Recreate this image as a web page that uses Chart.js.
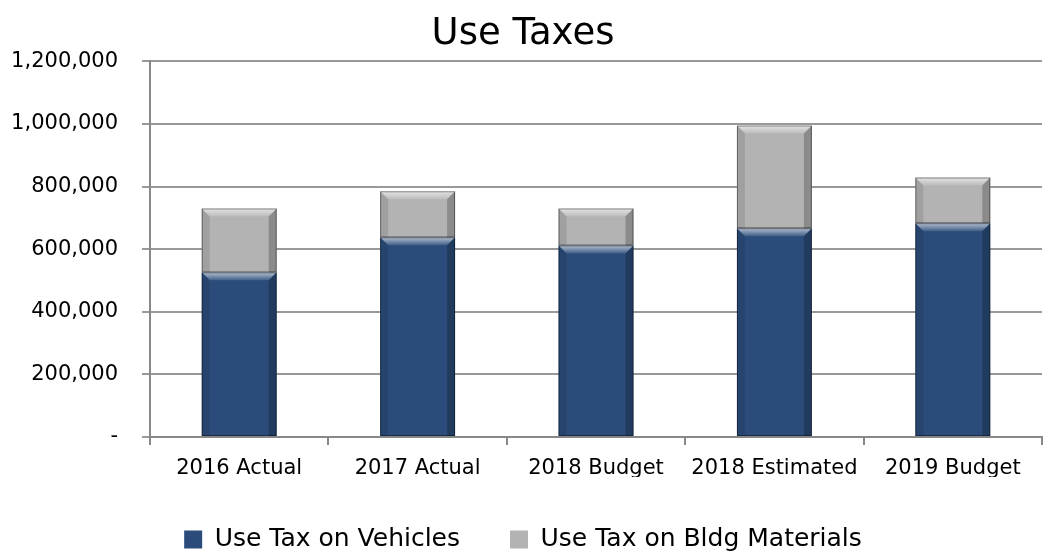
<!DOCTYPE html>
<html>
<head>
<meta charset="utf-8">
<script src="https://cdn.jsdelivr.net/npm/chart.js@4"></script>
<style>
  html, body { margin: 0; padding: 0; background: #fff; }
  #wrap { width: 1050px; height: 552px; }
</style>
</head>
<body>
<div id="wrap"><canvas id="tax-canvas" width="1050" height="552"></canvas></div>
<script>
let categories = ['2016 Actual', '2017 Actual', '2018 Budget', '2018 Estimated', '2019 Budget'];
let vehicles = [526000, 638000, 612000, 667000, 683000];
let bldgMaterials = [204000, 147000, 118000, 328000, 146000];
let yTicks = [0, 200000, 400000, 600000, 800000, 1000000, 1200000];

let fontFamily = "'DejaVu Sans', sans-serif";

// shade each bar so it looks like a bevelled block
let bevel = {
  id: 'bevel',
  afterDatasetsDraw(chart) {
    let ctx = chart.ctx;
    chart.data.datasets.forEach((ds, di) => {
      chart.getDatasetMeta(di).data.forEach(bar => {
        let left = bar.x - bar.width / 2;
        let right = bar.x + bar.width / 2;
        let top = Math.min(bar.y, bar.base);
        let bottom = Math.max(bar.y, bar.base);
        let w = right - left, h = bottom - top;
        let b = Math.min(8, h / 3);
        ctx.save();
        // top highlight
        let g = ctx.createLinearGradient(0, top, 0, top + b);
        g.addColorStop(0, 'rgba(255,255,255,0.65)');
        g.addColorStop(1, 'rgba(255,255,255,0.1)');
        ctx.fillStyle = g;
        ctx.beginPath();
        ctx.moveTo(left, top);
        ctx.lineTo(right, top);
        ctx.lineTo(right - b, top + b);
        ctx.lineTo(left + b, top + b);
        ctx.closePath();
        ctx.fill();
        // sides
        ctx.fillStyle = 'rgba(0,0,0,0.10)';
        ctx.beginPath();
        ctx.moveTo(left, top);
        ctx.lineTo(left + b, top + b);
        ctx.lineTo(left + b, bottom);
        ctx.lineTo(left, bottom);
        ctx.closePath();
        ctx.fill();
        ctx.fillStyle = 'rgba(0,0,0,0.22)';
        ctx.beginPath();
        ctx.moveTo(right, top);
        ctx.lineTo(right - b, top + b);
        ctx.lineTo(right - b, bottom);
        ctx.lineTo(right, bottom);
        ctx.closePath();
        ctx.fill();
        // outline
        ctx.strokeStyle = 'rgba(0,0,0,0.4)';
        ctx.lineWidth = 1;
        ctx.strokeRect(left + 0.5, top + 0.5, w - 1, h - 1);
        ctx.restore();
      });
    });
  }
};

let ctx = document.getElementById('tax-canvas').getContext('2d');
let chart = new Chart(ctx, {
  type: 'bar',
  data: {
    labels: categories,
    datasets: [{
      label: 'Use Tax on Vehicles',
      data: vehicles,
      backgroundColor: '#2b4c7a',
      borderWidth: 0,
      categoryPercentage: 1,
      barPercentage: 0.42
    }, {
      label: 'Use Tax on Bldg Materials',
      data: bldgMaterials,
      backgroundColor: '#b3b3b3',
      borderWidth: 0,
      categoryPercentage: 1,
      barPercentage: 0.42
    }]
  },
  options: {
    responsive: false,
    animation: false,
    layout: { padding: { left: 4, right: 8, top: 4, bottom: -10 } },
    plugins: {
      title: {
        display: true,
        text: 'Use Taxes',
        color: '#000',
        font: { family: fontFamily, size: 37, weight: 'normal' },
        padding: { top: 8, bottom: 5 }
      },
      legend: {
        position: 'bottom',
        labels: {
          color: '#000',
          font: { family: fontFamily, size: 25 },
          boxWidth: 18,
          boxHeight: 18,
          padding: 50
        }
      },
      tooltip: { enabled: false }
    },
    scales: {
      x: {
        stacked: true,
        afterFit: axis => { axis.height = 40; },
        border: { color: '#888', width: 2 },
        grid: {
          offset: true,
          drawOnChartArea: false,
          color: '#888',
          tickLength: 8,
          lineWidth: 2
        },
        ticks: {
          color: '#000',
          font: { family: fontFamily, size: 21 },
          padding: 11
        }
      },
      y: {
        stacked: true,
        min: 0,
        max: 1200000,
        afterBuildTicks: axis => {
          axis.ticks = yTicks.map(v => ({ value: v }));
        },
        afterFit: axis => { axis.width = 146; },
        border: { color: '#888', width: 2 },
        grid: { color: '#999', lineWidth: 2, tickLength: 8 },
        ticks: {
          color: '#000',
          font: { family: fontFamily, size: 21 },
          padding: 24,
          callback: v => v === 0 ? '-' : v.toLocaleString('en-US')
        }
      }
    }
  },
  plugins: [bevel]
});
</script>
</body>
</html>
